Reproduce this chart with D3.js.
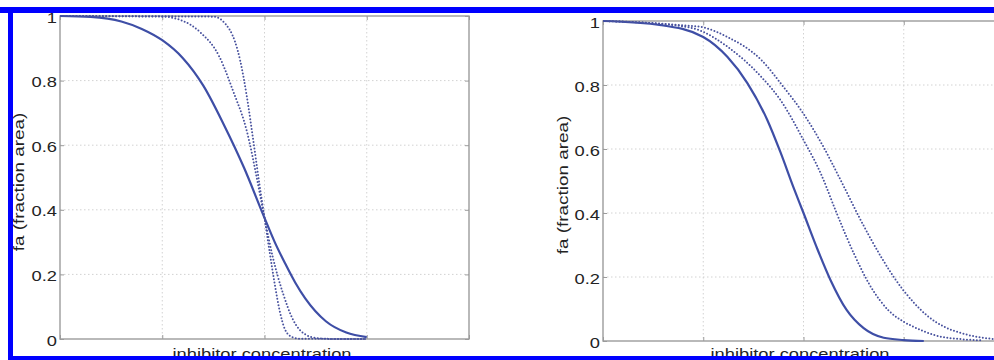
<!DOCTYPE html>
<html>
<head>
<meta charset="utf-8">
<script src="https://cdn.jsdelivr.net/npm/d3@7"></script>
<style>
  html, body { margin: 0; padding: 0; background: #fff; }
  svg { display: block; }
  text { font-family: "Liberation Sans", Arial, sans-serif; fill: #232323; }
</style>
</head>
<body>
<svg id="chart" width="994" height="360"></svg>
<script>
// ---- data (x in grid units 0..4, y = fa) ----
const yTickValues = [0, 0.2, 0.4, 0.6, 0.8, 1];
const yTickLabels = ["0", "0.2", "0.4", "0.6", "0.8", "1"];
const xTickValues = [0, 1, 2, 3, 4];
const yAxisTitle = "fa (fraction area)";
const xAxisTitle = "inhibitor concentration";

// left panel
const leftSolid = [[0,1.0],[0.3,0.997],[0.6,0.983],[0.8,0.96],[1.0,0.925],[1.2,0.87],[1.4,0.785],[1.6,0.665],[1.8,0.53],[2.0,0.375],[2.1,0.30],[2.2,0.235],[2.3,0.175],[2.4,0.125],[2.6,0.055],[2.8,0.02],[3.0,0.006]];
const leftDotMid = [[0,1.0],[1.0,0.998],[1.2,0.985],[1.37,0.95],[1.56,0.873],[1.69,0.77],[1.83,0.64],[1.93,0.49],[2.0,0.375],[2.08,0.255],[2.18,0.142],[2.28,0.059],[2.41,0.012],[2.51,0.003],[2.7,0.0],[3.0,0.0]];
const leftDotSteep = [[0,1.0],[1.5,0.998],[1.66,0.957],[1.76,0.865],[1.83,0.745],[1.89,0.615],[1.95,0.48],[2.0,0.375],[2.05,0.27],[2.1,0.17],[2.15,0.085],[2.2,0.03],[2.27,0.006],[2.35,0.001],[3.0,0.0]];

// right panel
const rightSolid = [[0,1.0],[0.58,0.987],[1.0,0.95],[1.24,0.888],[1.44,0.806],[1.64,0.69],[1.77,0.59],[1.90,0.48],[2.0,0.40],[2.13,0.294],[2.27,0.19],[2.43,0.097],[2.60,0.04],[2.80,0.01],[3.0,0.003],[3.2,0.0]];
const rightDotMid = [[0,1.0],[0.71,0.987],[1.0,0.966],[1.24,0.92],[1.58,0.825],[1.77,0.753],[2.0,0.628],[2.17,0.525],[2.33,0.40],[2.50,0.275],[2.67,0.17],[2.85,0.095],[3.0,0.06],[3.10,0.044],[3.30,0.019],[3.60,0.005],[3.78,0.002]];
const rightDotOuter = [[0,1.0],[0.78,0.987],[1.0,0.98],[1.24,0.95],[1.58,0.878],[1.80,0.794],[2.0,0.71],[2.20,0.606],[2.37,0.503],[2.57,0.378],[2.77,0.265],[2.90,0.20],[3.0,0.157],[3.10,0.12],[3.23,0.08],[3.40,0.045],[3.57,0.025],[3.73,0.013],[3.90,0.006],[4.0,0.003]];

const panels = [
  { left: 60, top: 16, right: 469, bottom: 339, series: [leftSolid, leftDotMid, leftDotSteep], yTitleX: 24, yTitleY: 182, xTitleX: 262 },
  { left: 603, top: 21, right: 1004, bottom: 341, series: [rightSolid, rightDotMid, rightDotOuter], yTitleX: 568, yTitleY: 185, xTitleX: 800 }
];

const svg = d3.select("#chart");
const lineColor = "#3e4ea6";
const boxColor = "#9c9c9c";
const gridColor = "#d2d2d2";
const stretch = 1.22;

function stretchText(sel, f) {
  sel.each(function() {
    const w = this.getComputedTextLength();
    this.setAttribute("textLength", w * f);
    this.setAttribute("lengthAdjust", "spacingAndGlyphs");
  });
}

panels.forEach(p => {
  const x = d3.scaleLinear().domain([0, 4]).range([p.left, p.right]);
  const y = d3.scaleLinear().domain([0, 1]).range([p.bottom, p.top]);
  const g = svg.append("g");

  // grid
  g.append("g").selectAll("line").data(xTickValues.slice(1, -1)).join("line")
    .attr("x1", d => x(d)).attr("x2", d => x(d)).attr("y1", p.top).attr("y2", p.bottom)
    .attr("stroke", gridColor).attr("stroke-width", 1).attr("stroke-dasharray", "1.5,2.5");
  g.append("g").selectAll("line").data(yTickValues.slice(1, -1)).join("line")
    .attr("x1", p.left).attr("x2", p.right).attr("y1", d => y(d)).attr("y2", d => y(d))
    .attr("stroke", gridColor).attr("stroke-width", 1).attr("stroke-dasharray", "1.5,2.5");

  // axes with inward ticks
  const yAx = g.append("g").attr("transform", `translate(${p.left},0)`)
    .call(d3.axisRight(y).tickValues(yTickValues).tickSize(4).tickFormat(""));
  const yAxR = g.append("g").attr("transform", `translate(${p.right},0)`)
    .call(d3.axisLeft(y).tickValues(yTickValues).tickSize(4).tickFormat(""));
  const xAxB = g.append("g").attr("transform", `translate(0,${p.bottom})`)
    .call(d3.axisTop(x).tickValues(xTickValues).tickSize(4).tickFormat(""));
  const xAxT = g.append("g").attr("transform", `translate(0,${p.top})`)
    .call(d3.axisBottom(x).tickValues(xTickValues).tickSize(4).tickFormat(""));
  [yAx, yAxR, xAxB, xAxT].forEach(a => {
    a.select(".domain").remove();
    a.selectAll("line").attr("stroke", boxColor).attr("stroke-width", 1);
  });

  // box
  g.append("rect").attr("x", p.left).attr("y", p.top)
    .attr("width", p.right - p.left).attr("height", p.bottom - p.top)
    .attr("fill", "none").attr("stroke", boxColor).attr("stroke-width", 1.4);

  // y tick labels
  const yl = g.append("g").selectAll("text").data(yTickValues).join("text")
    .attr("x", p.left - 3).attr("y", d => y(d) + 6.5)
    .attr("text-anchor", "end").attr("font-size", 15)
    .text((d, i) => yTickLabels[i]);
  stretchText(yl, stretch);

  // lines
  const line = d3.line().x(d => x(d[0])).y(d => y(d[1])).curve(d3.curveMonotoneX);
  const clipId = "clip" + p.left;
  g.append("clipPath").attr("id", clipId).append("rect")
    .attr("x", p.left).attr("y", p.top - 3).attr("width", p.right - p.left).attr("height", p.bottom - p.top + 4);
  const lg = g.append("g").attr("clip-path", `url(#${clipId})`);
  p.series.forEach((s, i) => {
    const path = lg.append("path").datum(s).attr("d", line)
      .attr("fill", "none").attr("stroke", lineColor);
    if (i === 0) {
      path.attr("stroke-width", 2.2).attr("stroke-linejoin", "round");
    } else {
      path.attr("stroke-width", 2).attr("stroke-linecap", "round")
        .attr("stroke-dasharray", "0,3.3").attr("stroke", "#48529e");
    }
  });

  // axis titles
  const yt = g.append("text")
    .attr("transform", `translate(${p.yTitleX},${p.yTitleY}) rotate(-90)`)
    .attr("text-anchor", "middle").attr("font-size", 15).text(yAxisTitle);
  stretchText(yt, 1.26);
  const xt = g.append("text")
    .attr("x", p.xTitleX).attr("y", 359)
    .attr("text-anchor", "middle").attr("font-size", 15).text(xAxisTitle);
  stretchText(xt, stretch);
});

// blue frame
const frame = svg.append("g").attr("fill", "#0000ff");
frame.append("rect").attr("x", 0).attr("y", 7).attr("width", 994).attr("height", 6);
frame.append("rect").attr("x", 8).attr("y", 7).attr("width", 5).attr("height", 353);
frame.append("rect").attr("x", 8).attr("y", 356).attr("width", 986).attr("height", 4);
</script>
</body>
</html>
